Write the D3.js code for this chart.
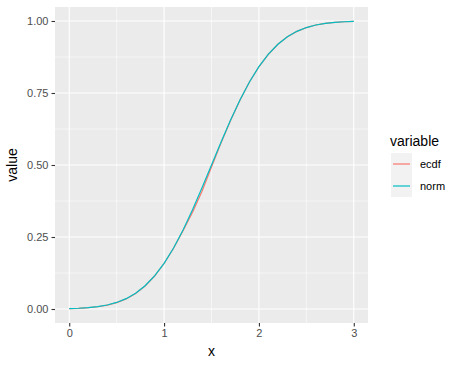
<!DOCTYPE html>
<html>
<head>
<meta charset="utf-8">
<script src="https://cdn.jsdelivr.net/npm/d3@7"></script>
<style>
  body { margin: 0; background: #fff; }
  text { font-family: "Liberation Sans", Arial, sans-serif; }
</style>
</head>
<body>
<svg id="chart" width="463" height="366"></svg>
<script>
// x grid shared by both series
const xValues = [0, 0.1, 0.2, 0.3, 0.4, 0.5, 0.6, 0.7, 0.8, 0.9, 1.0,
                 1.1, 1.2, 1.3, 1.4, 1.5, 1.6, 1.7, 1.8, 1.9, 2.0,
                 2.1, 2.2, 2.3, 2.4, 2.5, 2.6, 2.7, 2.8, 2.9, 3.0];

// values
const normValues = [0.0013, 0.0026, 0.0047, 0.0082, 0.0139, 0.0228, 0.0359, 0.0548, 0.0808, 0.1151, 0.1587,
                    0.2119, 0.2743, 0.3446, 0.4207, 0.5000, 0.5793, 0.6554, 0.7257, 0.7881, 0.8413,
                    0.8849, 0.9192, 0.9452, 0.9641, 0.9772, 0.9861, 0.9918, 0.9953, 0.9974, 0.9987];
const ecdfValues = [0.0013, 0.0025, 0.0045, 0.0078, 0.0132, 0.0220, 0.0350, 0.0540, 0.0800, 0.1145, 0.1580,
                    0.2110, 0.2720, 0.3360, 0.4090, 0.4930, 0.5760, 0.6540, 0.7250, 0.7880, 0.8410,
                    0.8845, 0.9190, 0.9450, 0.9640, 0.9770, 0.9860, 0.9918, 0.9953, 0.9974, 0.9987];

const seriesNames = ['ecdf', 'norm'];
const seriesColors = ['#F8766D', '#00BFC4'];
const xTicks = [0, 1, 2, 3];
const yTicks = [0, 0.25, 0.5, 0.75, 1];

const svg = d3.select('#chart');
const panel = { left: 55, top: 7, right: 368, bottom: 323 };

// ggplot style 5% expansion
const x = d3.scaleLinear().domain([-0.15, 3.15]).range([panel.left, panel.right]);
const yMin = 0.0013, yMax = 0.9987, pad = (yMax - yMin) * 0.05;
const y = d3.scaleLinear().domain([yMin - pad, yMax + pad]).range([panel.bottom, panel.top]);

svg.append('rect')
    .attr('x', panel.left).attr('y', panel.top)
    .attr('width', panel.right - panel.left).attr('height', panel.bottom - panel.top)
    .attr('fill', '#EBEBEB');

// minor grid
const xMinor = [0.5, 1.5, 2.5];
const yMinor = [0.125, 0.375, 0.625, 0.875];
svg.append('g').selectAll('line').data(xMinor).join('line')
    .attr('x1', d => x(d)).attr('x2', d => x(d))
    .attr('y1', panel.top).attr('y2', panel.bottom)
    .attr('stroke', '#fff').attr('stroke-width', 0.55);
svg.append('g').selectAll('line').data(yMinor).join('line')
    .attr('x1', panel.left).attr('x2', panel.right)
    .attr('y1', d => y(d)).attr('y2', d => y(d))
    .attr('stroke', '#fff').attr('stroke-width', 0.55);

// major grid
svg.append('g').selectAll('line').data(xTicks).join('line')
    .attr('x1', d => x(d)).attr('x2', d => x(d))
    .attr('y1', panel.top).attr('y2', panel.bottom)
    .attr('stroke', '#fff').attr('stroke-width', 1.1);
svg.append('g').selectAll('line').data(yTicks).join('line')
    .attr('x1', panel.left).attr('x2', panel.right)
    .attr('y1', d => y(d)).attr('y2', d => y(d))
    .attr('stroke', '#fff').attr('stroke-width', 1.1);

// axes
const xAxis = svg.append('g')
    .attr('transform', `translate(0,${panel.bottom})`)
    .call(d3.axisBottom(x).tickValues(xTicks).tickFormat(d3.format('d')).tickSize(3.5).tickPadding(3));
const yAxis = svg.append('g')
    .attr('transform', `translate(${panel.left},0)`)
    .call(d3.axisLeft(y).tickValues(yTicks).tickFormat(d3.format('.2f')).tickSize(3.5).tickPadding(3));
[xAxis, yAxis].forEach(g => {
    g.select('.domain').remove();
    g.selectAll('.tick line').attr('stroke', '#333').attr('stroke-width', 1.1);
    g.selectAll('.tick text').attr('fill', '#4D4D4D').style('font-size', '11px')
        .style('font-family', '"Liberation Sans", Arial, sans-serif');
});

// lines
const series = seriesNames.map((name, i) => ({
    name,
    color: seriesColors[i],
    values: xValues.map((xv, j) => ({ x: xv, y: (name === 'ecdf' ? ecdfValues : normValues)[j] }))
}));
const line = d3.line().x(d => x(d.x)).y(d => y(d.y));
svg.append('g').selectAll('path').data(series).join('path')
    .attr('d', d => line(d.values))
    .attr('fill', 'none')
    .attr('stroke', d => d.color)
    .attr('stroke-width', 1.2);

// axis titles
svg.append('text').attr('x', (panel.left + panel.right) / 2).attr('y', 356)
    .attr('text-anchor', 'middle').style('font-size', '14px').text('x');
svg.append('text')
    .attr('transform', `translate(17,${(panel.top + panel.bottom) / 2}) rotate(-90)`)
    .attr('text-anchor', 'middle').style('font-size', '14px').text('value');

// legend
const legend = svg.append('g').attr('transform', 'translate(390,0)');
legend.append('text').attr('x', 0).attr('y', 146).style('font-size', '14px').text('variable');
const keys = legend.selectAll('g.key').data(series).join('g')
    .attr('class', 'key')
    .attr('transform', (d, i) => `translate(1,${153 + i * 22})`);
keys.append('rect').attr('width', 21).attr('height', 22).attr('fill', '#F2F2F2');
keys.append('line').attr('x1', 2).attr('x2', 19).attr('y1', 11).attr('y2', 11)
    .attr('stroke', d => d.color).attr('stroke-width', 1.2);
keys.append('text').attr('x', 29).attr('y', 15).style('font-size', '11px')
    .attr('fill', '#000').text(d => d.name);
</script>
</body>
</html>
